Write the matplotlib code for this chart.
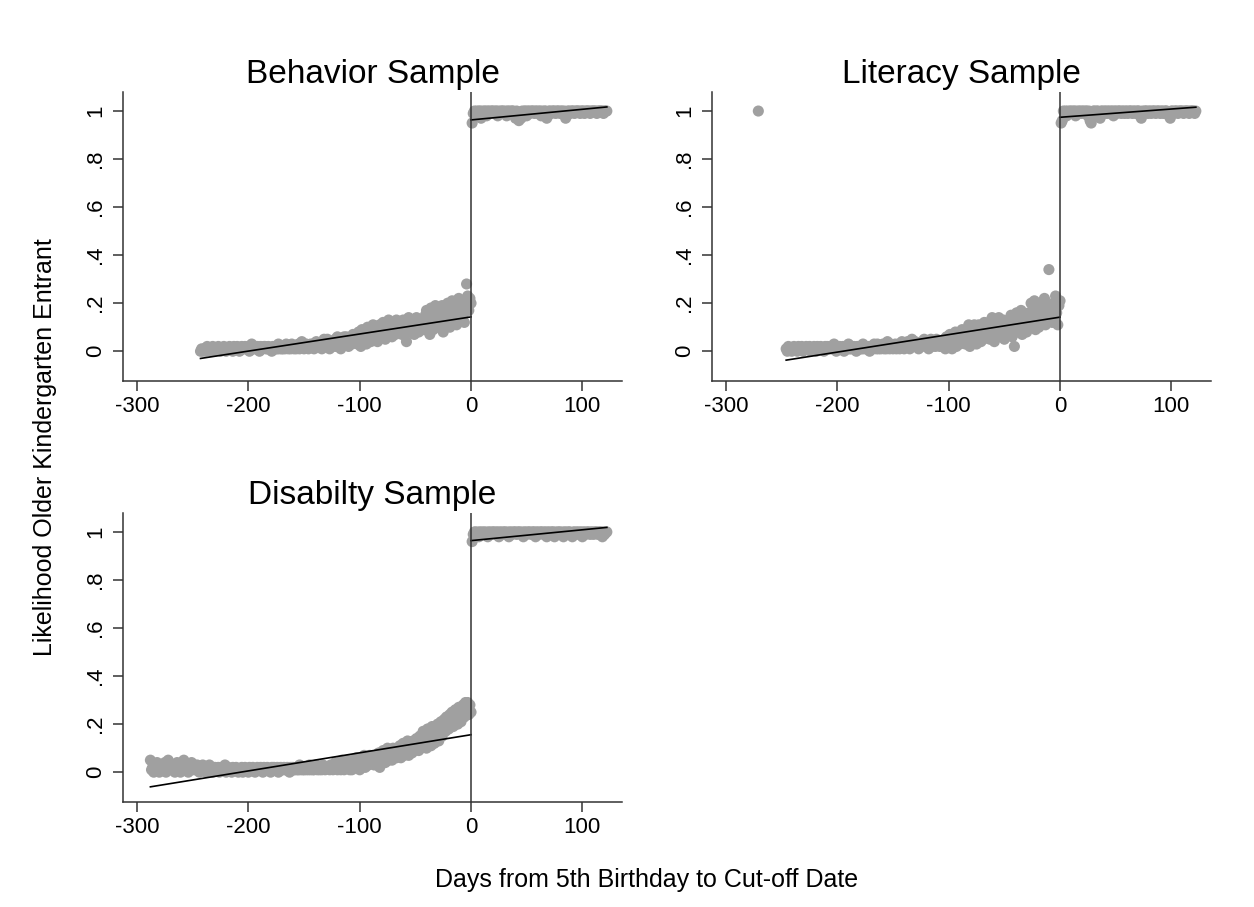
import matplotlib
matplotlib.use("Agg")
import matplotlib.pyplot as plt
import numpy as np

plt.rcParams["font.family"] = ["Liberation Sans", "DejaVu Sans"]

# ---------------------------------------------------------------------------
# Data: share of older kindergarten entrants by day relative to the cut-off
# (values in percent, one per day)
# ---------------------------------------------------------------------------
behavior_left_start = -243
behavior_left_pct = [
    0, 1, 0, 1, 1, 0, 2, 1, 1, 0, 1, 2, 1, 0, 1, 1, 2, 1, 0, 1,
    1, 2, 1, 0, 1, 1, 2, 1, 1, 0, 2, 1, 1, 2, 1, 0, 1, 2, 1, 1,
    2, 1, 1, 2, 0, 1, 3, 1, 2, 1, 1, 2, 1, 0, 2, 1, 1, 2, 2, 1,
    1, 2, 1, 1, 0, 2, 1, 2, 1, 1, 3, 1, 2, 1, 1, 2, 1, 3, 2, 1,
    2, 1, 3, 2, 1, 2, 1, 2, 3, 1, 2, 4, 2, 1, 2, 3, 2, 1, 2, 3,
    2, 3, 1, 2, 4, 3, 2, 3, 2, 1, 3, 5, 2, 3, 5, 3, 1, 4, 3, 2,
    3, 5, 2, 6, 3, 4, 1, 2, 4, 6, 3, 6, 4, 2, 5, 4, 3, 7, 4, 5,
    6, 3, 8, 5, 2, 9, 6, 4, 8, 3, 10, 6, 9, 4, 7, 11, 5, 8, 7, 4,
    8, 11, 6, 9, 12, 8, 5, 11, 9, 13, 7, 10, 6, 12, 9, 7, 13, 10, 8, 11,
    10, 7, 13, 9, 12, 4, 10, 14, 8, 12, 10, 13, 7, 11, 14, 10, 8, 12, 11, 9,
    12, 9, 15, 17, 10, 13, 7, 18, 12, 9, 16, 19, 10, 13, 17, 11, 14, 19, 8, 15,
    18, 12, 20, 14, 10, 19, 21, 13, 16, 20, 11, 17, 22, 14, 18, 21, 15, 12, 19, 28,
    23, 17, 22, 20,
]
behavior_right_pct = [
    95, 99, 100, 98, 100, 99, 100, 100, 97, 100, 99, 100, 100, 98, 100, 100, 99, 100, 100, 100,
    99, 100, 100, 98, 100, 99, 100, 100, 100, 99, 100, 98, 100, 100, 99, 100, 100, 100, 99, 97,
    100, 99, 96, 98, 97, 100, 99, 100, 100, 98, 100, 100, 99, 100, 100, 100, 99, 100, 100, 99,
    100, 100, 98, 100, 99, 100, 100, 97, 98, 100, 100, 99, 100, 100, 100, 99, 100, 100, 100, 99,
    100, 100, 99, 100, 97, 98, 100, 100, 99, 100, 100, 100, 99, 100, 100, 100, 100, 99, 100, 100,
    100, 99, 100, 100, 100, 100, 99, 100, 100, 100, 100, 100, 99, 100, 100, 100, 100, 100, 99, 100,
    100, 100,
]

literacy_left_start = -246
literacy_left_pct = [
    1, 0, 2, 1, 1, 0, 1, 2, 1, 1, 0, 2, 1, 1, 2, 0, 1, 1, 2, 1,
    1, 2, 0, 1, 1, 2, 1, 0, 2, 1, 1, 2, 1, 1, 0, 2, 1, 2, 1, 1,
    2, 1, 1, 3, 1, 0, 2, 1, 2, 1, 1, 2, 0, 1, 2, 1, 3, 1, 1, 2,
    1, 2, 1, 0, 2, 1, 2, 1, 1, 3, 1, 2, 1, 1, 2, 0, 1, 2, 1, 3,
    2, 1, 3, 1, 2, 1, 2, 3, 1, 2, 1, 4, 2, 1, 3, 2, 1, 2, 3, 1,
    2, 3, 1, 2, 4, 2, 1, 3, 2, 4, 3, 1, 2, 5, 3, 2, 4, 2, 3, 1,
    3, 2, 4, 3, 5, 2, 3, 4, 1, 3, 5, 2, 4, 3, 2, 5, 3, 4, 2, 3,
    4, 2, 5, 1, 6, 4, 2, 7, 5, 1, 6, 3, 8, 2, 5, 7, 3, 6, 9, 4,
    6, 3, 9, 5, 11, 2, 7, 10, 4, 11, 6, 3, 8, 11, 7, 4, 9, 5, 12, 8,
    9, 6, 12, 5, 10, 14, 8, 4, 13, 9, 6, 14, 10, 7, 11, 13, 5, 9, 12, 10,
    11, 7, 15, 6, 12, 2, 10, 16, 8, 13, 11, 17, 7, 12, 9, 15, 8, 13, 16, 10,
    20, 11, 17, 21, 9, 14, 19, 10, 20, 15, 12, 18, 22, 11, 16, 19, 34, 13, 18, 12,
    20, 14, 23, 16, 11, 19, 21,
]
literacy_outlier_day = [-271]
literacy_outlier_pct = [100]
literacy_right_pct = [
    95, 96, 100, 99, 100, 98, 100, 99, 100, 100, 99, 100, 100, 98, 100, 99, 100, 100, 99, 100,
    100, 99, 100, 100, 98, 100, 96, 95, 99, 100, 100, 99, 100, 100, 98, 97, 100, 100, 99, 100,
    100, 99, 100, 100, 99, 100, 100, 98, 100, 100, 99, 100, 100, 100, 99, 100, 100, 99, 100, 100,
    99, 100, 100, 100, 99, 100, 100, 99, 100, 100, 100, 98, 97, 100, 99, 100, 100, 100, 99, 100,
    100, 99, 100, 100, 100, 99, 100, 100, 100, 99, 100, 100, 99, 100, 100, 100, 99, 98, 97, 100,
    100, 99, 100, 100, 100, 99, 100, 100, 100, 100, 99, 100, 100, 100, 100, 99, 100, 100, 100, 100,
    99, 100,
]

disability_left_start = -288
disability_left_pct = [
    5, 1, 2, 0, 3, 1, 4, 2, 0, 1, 3, 2, 1, 4, 0, 2, 5, 1, 3, 2,
    1, 3, 0, 2, 4, 1, 2, 0, 3, 1, 5, 2, 1, 3, 0, 2, 1, 4, 2, 1,
    2, 1, 3, 1, 0, 2, 1, 3, 2, 1, 0, 2, 1, 3, 1, 2, 0, 1, 2, 1,
    1, 2, 0, 1, 2, 1, 1, 3, 0, 1, 2, 1, 1, 0, 2, 1, 1, 2, 1, 0,
    1, 1, 2, 0, 1, 2, 1, 1, 0, 2, 1, 1, 2, 1, 0, 1, 2, 1, 1, 2,
    1, 0, 2, 1, 1, 2, 1, 1, 0, 2, 1, 2, 1, 1, 2, 0, 1, 2, 1, 1,
    2, 1, 1, 2, 1, 0, 2, 1, 2, 1, 1, 2, 1, 1, 3, 1, 2, 1, 1, 2,
    1, 2, 1, 3, 1, 2, 1, 1, 2, 3, 1, 2, 1, 2, 1, 3, 2, 1, 2, 2,
    2, 1, 3, 2, 1, 2, 4, 2, 1, 3, 2, 1, 5, 2, 1, 3, 2, 5, 3, 1,
    3, 1, 5, 3, 2, 6, 2, 4, 1, 6, 3, 4, 7, 2, 4, 6, 3, 7, 4, 5,
    5, 3, 7, 5, 3, 8, 2, 6, 4, 9, 6, 4, 8, 10, 5, 8, 7, 5, 10, 8,
    8, 6, 10, 7, 11, 6, 9, 12, 7, 10, 8, 13, 7, 10, 12, 8, 13, 9, 11, 14,
    12, 9, 15, 10, 13, 17, 11, 14, 10, 18, 12, 16, 11, 19, 14, 12, 17, 15, 20, 13,
    18, 21, 15, 20, 22, 17, 23, 20, 18, 24, 21, 25, 19, 22, 26, 23, 20, 27, 24, 21,
    26, 28, 23, 29, 25, 29, 24, 28, 25,
]
disability_right_pct = [
    96, 99, 100, 100, 99, 100, 98, 100, 100, 99, 100, 100, 99, 100, 98, 100, 100, 99, 100, 100,
    100, 99, 100, 100, 98, 100, 100, 99, 100, 100, 100, 99, 100, 98, 100, 100, 99, 100, 100, 100,
    99, 100, 100, 100, 99, 100, 98, 100, 100, 99, 100, 100, 100, 99, 100, 100, 100, 98, 100, 100,
    99, 100, 100, 100, 99, 100, 100, 98, 100, 100, 99, 100, 100, 100, 98, 100, 99, 100, 100, 100,
    99, 100, 98, 100, 100, 99, 100, 100, 100, 99, 98, 100, 100, 99, 100, 100, 99, 100, 100, 98,
    100, 100, 99, 100, 100, 100, 99, 100, 100, 99, 100, 100, 100, 99, 100, 100, 100, 98, 100, 99,
    100, 100,
]

# Linear fits on each side of the cut-off: fitted value at first and last day
behavior_fit_left = [-0.030, 0.143]
behavior_fit_right = [0.963, 1.017]
literacy_fit_left = [-0.037, 0.142]
literacy_fit_right = [0.974, 1.016]
disability_fit_left = [-0.061, 0.156]
disability_fit_right = [0.964, 1.019]

titles = ["Behavior Sample", "Literacy Sample", "Disabilty Sample"]
x_ticks = [-300, -200, -100, 0, 100]
y_ticks = [0, 0.2, 0.4, 0.6, 0.8, 1]
y_tick_labels = ["0", ".2", ".4", ".6", ".8", "1"]

# ---------------------------------------------------------------------------
DOT = "#a0a0a0"
AXC = "#333333"
DOT_SIZE = 64

fig = plt.figure(figsize=(12.54, 9.07), dpi=100)
fig.patch.set_facecolor("white")

positions = [
    [0.0981, 0.5799, 0.3979, 0.3186],
    [0.5678, 0.5799, 0.3979, 0.3186],
    [0.0981, 0.1158, 0.3979, 0.3186],
]

panels = [
    (behavior_left_start, behavior_left_pct, behavior_right_pct,
     behavior_fit_left, behavior_fit_right, [], []),
    (literacy_left_start, literacy_left_pct, literacy_right_pct,
     literacy_fit_left, literacy_fit_right, literacy_outlier_day, literacy_outlier_pct),
    (disability_left_start, disability_left_pct, disability_right_pct,
     disability_fit_left, disability_fit_right, [], []),
]

for pos, title, panel in zip(positions, titles, panels):
    start, left_pct, right_pct, fit_l, fit_r, extra_x, extra_pct = panel
    ax = fig.add_axes(pos)

    left_days = np.arange(start, start + len(left_pct))
    right_days = np.arange(1, len(right_pct) + 1)
    left_y = np.array(left_pct) / 100.0
    right_y = np.array(right_pct) / 100.0

    ax.scatter(left_days, left_y, s=DOT_SIZE, color=DOT, edgecolors="none", zorder=2)
    ax.scatter(right_days, right_y, s=DOT_SIZE, color=DOT, edgecolors="none", zorder=2)
    if extra_x:
        ax.scatter(extra_x, np.array(extra_pct) / 100.0, s=DOT_SIZE, color=DOT,
                   edgecolors="none", zorder=2)

    ax.plot([left_days[0], left_days[-1]], fit_l, color="black", lw=1.2, zorder=3)
    ax.plot([0, right_days[-1]], fit_r, color="black", lw=1.2, zorder=3)

    ax.axvline(0, color=AXC, lw=1.1, zorder=4)

    ax.set_xlim(-312.6, 135.6)
    ax.set_ylim(-0.124, 1.079)
    ax.set_xticks(x_ticks)
    ax.set_xticklabels([str(t) for t in x_ticks])
    ax.set_yticks(y_ticks)
    ax.set_yticklabels(y_tick_labels, rotation=90, va="center")

    for side in ["top", "right"]:
        ax.spines[side].set_visible(False)
    for side in ["left", "bottom"]:
        ax.spines[side].set_color(AXC)
        ax.spines[side].set_linewidth(1.1)

    ax.tick_params(axis="both", direction="out", length=7, width=1.1,
                   color=AXC, labelsize=16, labelcolor="black")
    ax.tick_params(axis="x", pad=4)
    ax.tick_params(axis="y", pad=5)

    ax.set_title(title, fontsize=24, pad=6.5)

fig.text(0.0359, 0.507, "Likelihood Older Kindergarten Entrant",
         rotation=90, fontsize=18, ha="center", va="center")
fig.text(0.5155, 0.0298, "Days from 5th Birthday to Cut-off Date",
         fontsize=18, ha="center", va="center")

fig.savefig("out.png", dpi=100, facecolor="white")
